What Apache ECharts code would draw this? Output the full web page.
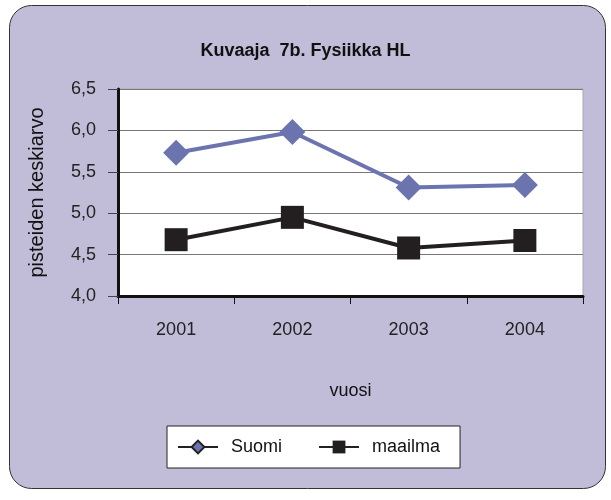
<!DOCTYPE html>
<html>
<head>
    <meta charset="utf-8">
    <title>Kuvaaja 7b</title>
    <script src="https://cdn.jsdelivr.net/npm/echarts@6/dist/echarts.min.js"></script>
</head>
<body style="margin:0;background:#fff;">
    <div id="chart" style="width:611px;height:500px;"></div>
<script>
    // data
    var years = ['2001', '2002', '2003', '2004'];
    var suomi = [5.73, 5.98, 5.31, 5.34];
    var maailma = [4.68, 4.95, 4.58, 4.67];
    var yMin = 4.0, yMax = 6.5, yStep = 0.5;

    var font = 'Liberation Sans, Arial, sans-serif';
    var chart = echarts.init(document.getElementById('chart'));
    chart.setOption({
        backgroundColor: '#fff',
        textStyle: { fontFamily: font },
        graphic: [{
            type: 'rect',
            left: 9, top: 5,
            shape: { width: 596, height: 483, r: 22 },
            style: { fill: '#c1bdd8', stroke: '#333', lineWidth: 1 },
            z: -100, silent: true
        }],
        title: {
            text: 'Kuvaaja  7b. Fysiikka HL',
            left: 'center', top: 37,
            textStyle: { fontSize: 18, fontWeight: 'bold', color: '#111', fontFamily: font }
        },
        grid: {
            left: 118, right: 28, top: 89, bottom: 204,
            show: true, backgroundColor: '#fff', borderColor: '#aaa', borderWidth: 1
        },
        legend: {
            left: 167, top: 426,
            padding: [12, 20, 12, 10],
            itemGap: 36,
            itemWidth: 40, itemHeight: 16,
            backgroundColor: '#fff',
            borderColor: '#222', borderWidth: 1,
            textStyle: { fontSize: 18, color: '#111', fontFamily: font, padding: [0, 0, 0, 8] },
            data: [{
                name: 'Suomi',
                itemStyle: { color: '#6c74b0', borderColor: '#222', borderWidth: 2 },
                lineStyle: { color: '#222', width: 2 }
            }, {
                name: 'maailma',
                itemStyle: { color: '#231f20' },
                lineStyle: { color: '#222', width: 2 }
            }]
        },
        xAxis: {
            type: 'category',
            data: years,
            boundaryGap: true,
            name: 'vuosi',
            nameLocation: 'middle',
            nameGap: 86,
            nameTextStyle: { fontSize: 18, color: '#111' },
            axisLine: { lineStyle: { color: '#111', width: 3 } },
            axisTick: { show: true, length: 8, lineStyle: { color: '#111', width: 1 } },
            axisLabel: { fontSize: 18, color: '#222', margin: 25 },
            splitLine: { show: false }
        },
        yAxis: {
            type: 'value',
            min: yMin, max: yMax, interval: yStep,
            name: 'pisteiden keskiarvo',
            nameLocation: 'middle',
            nameRotate: 90,
            nameGap: 71,
            nameTextStyle: { fontSize: 20, color: '#111' },
            axisLine: { show: true, lineStyle: { color: '#111', width: 3 } },
            axisTick: { show: true, length: 10, lineStyle: { color: '#444', width: 1 } },
            axisLabel: {
                fontSize: 18, color: '#222', margin: 22,
                formatter: function (v) { return v.toFixed(1).replace('.', ','); }
            },
            splitLine: { show: true, lineStyle: { color: '#777', width: 1 } }
        },
        series: [{
            name: 'Suomi',
            type: 'line',
            data: suomi,
            symbol: 'diamond',
            symbolSize: 26,
            itemStyle: { color: '#6c74b0' },
            lineStyle: { color: '#6c74b0', width: 4 },
            emphasis: { disabled: true },
            animation: false
        }, {
            name: 'maailma',
            type: 'line',
            data: maailma,
            symbol: 'rect',
            symbolSize: 23,
            itemStyle: { color: '#231f20' },
            lineStyle: { color: '#231f20', width: 4 },
            emphasis: { disabled: true },
            animation: false
        }]
    });
</script>
</body>
</html>
